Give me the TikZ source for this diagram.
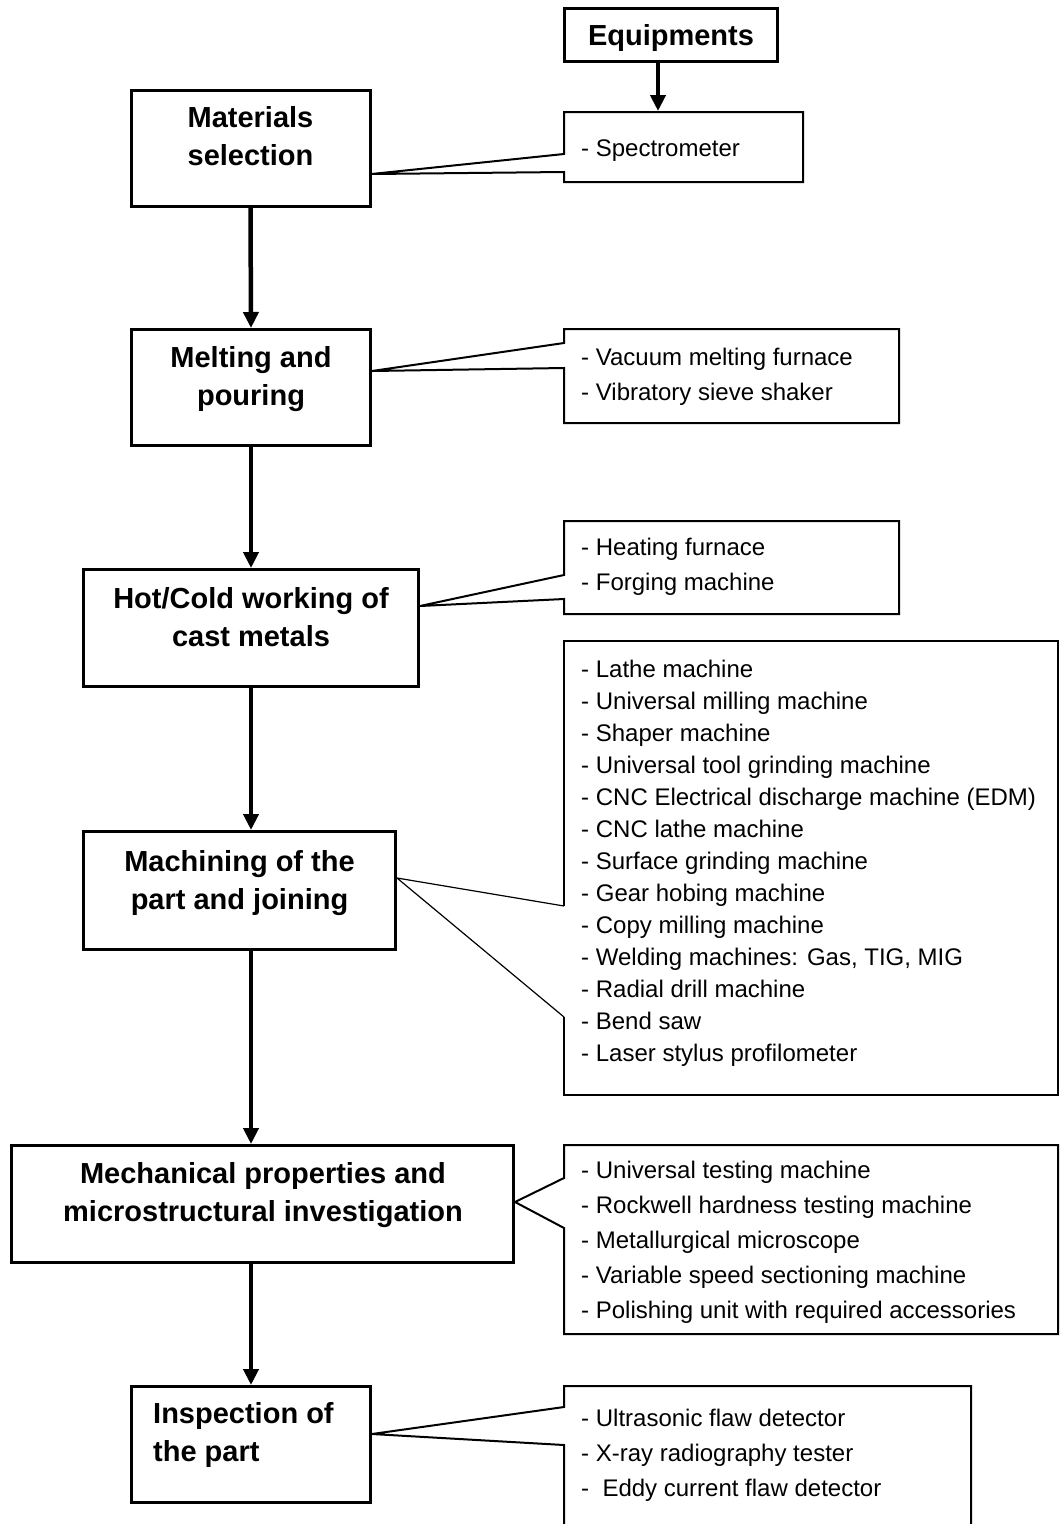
\documentclass[tikz,border=0pt]{standalone}
\usepackage{fontspec}
\setmainfont{Liberation Sans}
\usetikzlibrary{arrows.meta}
\begin{document}
\begin{tikzpicture}[x=1pt,y=-1pt,
  stage/.style={draw, line width=3pt, inner sep=0pt},
  stagetext/.style={anchor=north, align=center, inner sep=0pt,
    font=\fontsize{29}{38}\selectfont\bfseries},
  listtext/.style={anchor=north west, align=left, inner sep=0pt,
    font=\fontsize{24}{35}\selectfont},
  callout/.style={draw, line width=2pt, line join=miter},
  pointer/.style={line width=1.2pt},
  flow/.style={line width=4.5pt, -{Triangle[length=16pt,width=15pt]}},
]
\clip (0,0) rectangle (1060,1524);
\fill[white] (0,0) rectangle (1060,1524);

% process stages
\node[stage, minimum width=213pt, minimum height=53pt, text height=21pt, text depth=1pt,
      font=\fontsize{29}{38}\selectfont\bfseries] (eq) at (671,35) {Equipments};
\node[stage, minimum width=239pt, minimum height=116pt] (mat) at (250.5,148) {};
\node[stage, minimum width=239pt, minimum height=116pt] (mel) at (251,387.5) {};
\node[stage, minimum width=335pt, minimum height=117pt] (hot) at (251,628) {};
\node[stage, minimum width=312pt, minimum height=118pt] (mac) at (239.5,890.5) {};
\node[stage, minimum width=502pt, minimum height=117pt] (mech) at (262.5,1204) {};
\node[stage, minimum width=239pt, minimum height=116pt] (ins) at (251,1444.5) {};

% stage titles
\node[stagetext] (matT) at (250.5,106) {Materials\\selection};
\node[stagetext] (melT) at (251,346) {Melting and\\pouring};
\node[stagetext] (hotT) at (251,587) {Hot/Cold working of\\cast metals};
\node[stagetext] (macT) at (239.5,850) {Machining of the\\part and joining};
\node[stagetext] (mechT) at (263,1162) {Mechanical properties and\\microstructural investigation};
\node[stagetext, anchor=north west, align=left] (insT) at (153,1402) {Inspection of\\the part};

% flow arrows
\coordinate (specTop) at (658,111);
\draw[flow] (eq.south -| specTop) -- (specTop);
\draw[flow] (mat.south) -- (mel.north);
\draw[flow] (mel.south) -- (hot.north);
\draw[flow] (hot.south) -- (hot.south |- mac.north);
\draw[flow] (mac.south -| hot.south) -- (mech.north -| hot.south);
\draw[flow] (mech.south -| hot.south) -- (ins.north);

% equipment callouts
\draw[callout] (564,112) -- (803,112) -- (803,182) -- (564,182) -- (564,172)
  -- (mat.east |- 0,174) -- (564,154) -- cycle;
\node[listtext] (eq1) at (581,139.5) {- Spectrometer};

\draw[callout] (564,329) -- (899,329) -- (899,423) -- (564,423) -- (564,368)
  -- (mel.east |- 0,371) -- (564,343) -- cycle;
\node[listtext] (eq2) at (581,347.5) {- Vacuum melting furnace\\- Vibratory sieve shaker};

\draw[callout] (564,521) -- (899,521) -- (899,614) -- (564,614) -- (564,599)
  -- (hot.east |- 0,606) -- (564,575) -- cycle;
\node[listtext] (eq3) at (581,537.5) {- Heating furnace\\- Forging machine};

\draw[callout] (564,906) -- (564,641) -- (1058,641) -- (1058,1095) -- (564,1095) -- (564,1017);
\draw[pointer] (564,906) -- (mac.east |- 0,878) -- (564,1017);
\node[listtext, font=\fontsize{24}{32}\selectfont] (eq4) at (581,660) {- Lathe machine\\
- Universal milling machine\\
- Shaper machine\\
- Universal tool grinding machine\\
- CNC Electrical discharge machine (EDM)\\
- CNC lathe machine\\
- Surface grinding machine\\
- Gear hobing machine\\
- Copy milling machine\\
- Welding machines: Gas, TIG, MIG\\
- Radial drill machine\\
- Bend saw\\
- Laser stylus profilometer};

\draw[callout] (564,1145) -- (1058,1145) -- (1058,1334) -- (564,1334) -- (564,1228)
  -- (mech.east |- 0,1202) -- (564,1178) -- cycle;
\node[listtext] (eq5) at (581,1160.5) {- Universal testing machine\\
- Rockwell hardness testing machine\\
- Metallurgical microscope\\
- Variable speed sectioning machine\\
- Polishing unit with required accessories};

\draw[callout] (564,1445) -- (564,1560) -- (971,1560) -- (971,1386) -- (564,1386) -- (564,1407)
  -- (ins.east |- 0,1434) -- cycle;
\node[listtext] (eq6) at (581,1408.5) {- Ultrasonic flaw detector\\
- X-ray radiography tester\\
-\ \ Eddy current flaw detector};
\end{tikzpicture}
\end{document}
